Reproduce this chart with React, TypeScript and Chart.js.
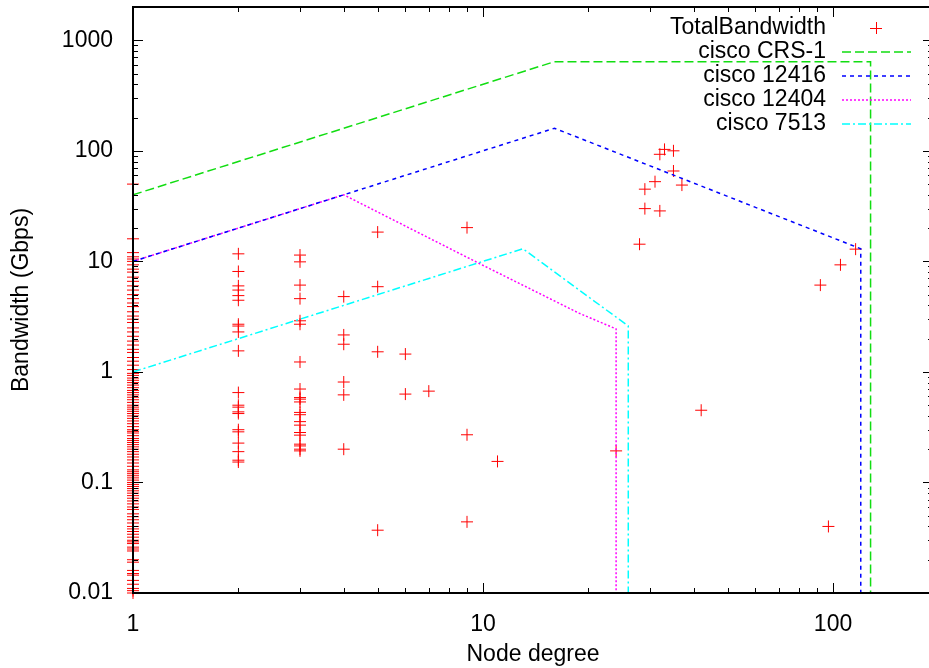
import { useEffect, useRef } from "react";
import { Chart, registerables } from "chart.js";
Chart.register(...registerables);

// ---------- labels ----------
const seriesNames = ["TotalBandwidth", "cisco CRS-1", "cisco 12416", "cisco 12404", "cisco 7513"];
const xTitle = "Node degree";
const yTitle = "Bandwidth (Gbps)";
const xTickValues = [1, 10, 100];
const yTickValues = [0.01, 0.1, 1, 10, 100, 1000];
const xRange = [1, 193];
const yRange = [0.01, 2000];

// ---------- measured points (TotalBandwidth) ----------
const degree1Bw = [
  50, 16, 12, 11, 10.5, 10,
  9.3, 8.5, 8, 7.2, 6.6, 6, 5.5, 5, 4.6, 4.2, 3.9, 3.5, 3.2, 3, 2.8, 2.5, 2.3, 2.1, 1.9, 1.75, 1.6, 1.5,
  1.35, 1.25, 1.15, 1.05,
  0.97, 0.93, 0.88, 0.84, 0.8, 0.76, 0.72, 0.68, 0.65, 0.62, 0.59, 0.56, 0.53, 0.5, 0.48, 0.46, 0.44,
  0.42, 0.4, 0.38, 0.36, 0.34, 0.32, 0.3, 0.29, 0.28, 0.265, 0.25, 0.24, 0.23, 0.22, 0.21, 0.2, 0.19,
  0.18, 0.17, 0.16, 0.15, 0.14, 0.13, 0.125, 0.12, 0.115, 0.11, 0.105, 0.1,
  0.096, 0.092, 0.088, 0.084, 0.08, 0.076, 0.072, 0.068, 0.064, 0.06, 0.057, 0.052, 0.049, 0.046,
  0.043, 0.04, 0.038, 0.036, 0.034, 0.032, 0.03, 0.029, 0.028, 0.026, 0.025, 0.024, 0.02, 0.019,
  0.016, 0.015, 0.0145, 0.013, 0.012, 0.011, 0.0105, 0.01,
];
const degree2Bw = [
  11.7, 8.1, 6.0, 5.5, 4.9, 4.45, 2.7, 2.6, 2.3, 1.55, 0.65, 0.5, 0.48, 0.435, 0.42, 0.3, 0.287,
  0.227, 0.19, 0.159, 0.153,
];
const degree3Bw = [
  11.4, 9.9, 6.1, 4.6, 2.9, 2.7, 1.23, 0.7, 0.586, 0.567, 0.535, 0.43, 0.41, 0.355, 0.33, 0.283,
  0.268, 0.222, 0.214, 0.2, 0.193,
];
const otherDegree = [
  4, 4, 4, 4, 4, 4, 5, 5, 5, 5, 6, 6, 7, 9, 9, 9, 11, 24, 28, 29, 29, 31, 32, 32, 33, 35, 35, 37, 42,
  92, 97, 105, 116,
];
const otherBw = [
  4.8, 2.16, 1.78, 0.81, 0.62, 0.2, 18.4, 5.9, 1.52, 0.037, 1.45, 0.63, 0.67, 20.2, 0.27, 0.044,
  0.155, 0.193, 14.3, 45, 30, 52.6, 93, 28.6, 103, 100, 65.7, 49, 0.45, 6.1, 0.04, 9.3, 12.9,
];

// ---------- router capacity curves ----------
const crsDegree = [1, 16, 128, 128];
const crsBw = [40, 640, 640, 0.01];
const c12416Degree = [1, 16, 120, 120];
const c12416Bw = [10, 160, 13, 0.01];
const c12404Degree = [1, 4, 9.8, 18.8, 24, 24];
const c12404Bw = [10, 40, 9.5, 3.4, 2.45, 0.01];
const c7513Degree = [1, 13, 26, 26];
const c7513Bw = [1, 13, 2.6, 0.01];

const seriesColors = ["#ff0000", "#11dd11", "#0000ff", "#ff00ff", "#00ffff"];
const seriesDashes = [[], [9, 4], [4, 4], [2, 2], [8, 3, 2, 3]];

const FONT = "'Liberation Sans', Arial, Helvetica, sans-serif";
const CW = 940;
const CH = 668;

const toPts = (xs: number[], ys: number[]) => xs.map((x, i) => ({ x, y: ys[i] }));

const framePlugin = {
  id: "gnuplotFrame",
  afterDraw(chart: any) {
    const { ctx, chartArea } = chart;
    const { left, right, top, bottom } = chartArea;
    const xs = chart.scales.x;
    const ys = chart.scales.y;
    ctx.save();
    ctx.strokeStyle = "#000";
    ctx.lineWidth = 1;
    ctx.setLineDash([]);
    ctx.beginPath();
    for (let d = 1; d <= 1000; d *= 10) {
      for (let m = 1; m <= 9; m++) {
        const v = d * m;
        if (v < xs.min || v > xs.max) continue;
        const p = Math.round(xs.getPixelForValue(v)) + 0.5;
        const len = m === 1 ? 10 : 5;
        ctx.moveTo(p, bottom);
        ctx.lineTo(p, bottom - len);
        ctx.moveTo(p, top);
        ctx.lineTo(p, top + len);
      }
    }
    for (let d = 0.01; d <= 1000.5; d *= 10) {
      for (let m = 1; m <= 9; m++) {
        const v = d * m;
        if (v < ys.min * 0.999 || v > ys.max) continue;
        const p = Math.round(ys.getPixelForValue(v)) + 0.5;
        const len = m === 1 ? 10 : 5;
        ctx.moveTo(left, p);
        ctx.lineTo(left + len, p);
        ctx.moveTo(right, p);
        ctx.lineTo(right - len, p);
      }
    }
    ctx.stroke();
    ctx.lineWidth = 2;
    ctx.strokeRect(left, top, right - left, bottom - top);

    // legend
    const rowY = [28, 52, 76, 100, 124];
    ctx.font = `23px ${FONT}`;
    ctx.fillStyle = "#000";
    ctx.textAlign = "right";
    ctx.textBaseline = "middle";
    chart.data.datasets.forEach((ds: any, i: number) => {
      const y = rowY[i];
      ctx.fillText(ds.label, 826, y);
      ctx.strokeStyle = seriesColors[i];
      if (i === 0) {
        ctx.lineWidth = 1;
        ctx.setLineDash([]);
        ctx.beginPath();
        ctx.moveTo(870, y + 0.5);
        ctx.lineTo(882, y + 0.5);
        ctx.moveTo(876.5, y - 6);
        ctx.lineTo(876.5, y + 6);
        ctx.stroke();
      } else {
        ctx.lineWidth = 1.5;
        ctx.setLineDash(seriesDashes[i]);
        ctx.beginPath();
        ctx.moveTo(842, y);
        ctx.lineTo(911, y);
        ctx.stroke();
      }
    });
    ctx.restore();
  },
};

export default function App() {
  const ref = useRef<HTMLCanvasElement>(null);
  useEffect(() => {
    const pts = [
      ...degree1Bw.map((y) => ({ x: 1, y })),
      ...degree2Bw.map((y) => ({ x: 2, y })),
      ...degree3Bw.map((y) => ({ x: 3, y })),
      ...toPts(otherDegree, otherBw),
    ];
    const lineDs = (i: number, xs: number[], ys: number[]) => ({
      label: seriesNames[i],
      data: toPts(xs, ys),
      showLine: true,
      borderColor: seriesColors[i],
      backgroundColor: seriesColors[i],
      borderDash: seriesDashes[i],
      borderWidth: 1.5,
      pointRadius: 0,
      pointHoverRadius: 0,
      tension: 0,
      order: 1,
    });
    const tickFont = { family: FONT, size: 23 };
    const chart = new Chart(ref.current as HTMLCanvasElement, {
      type: "scatter",
      data: {
        datasets: [
          {
            label: seriesNames[0],
            data: pts,
            showLine: false,
            pointStyle: "cross",
            pointRadius: 6,
            pointHoverRadius: 6,
            borderColor: seriesColors[0],
            pointBorderColor: seriesColors[0],
            borderWidth: 1,
            pointBorderWidth: 1,
            clip: false,
            order: 2,
          } as any,
          lineDs(1, crsDegree, crsBw),
          lineDs(2, c12416Degree, c12416Bw),
          lineDs(3, c12404Degree, c12404Bw),
          lineDs(4, c7513Degree, c7513Bw),
        ],
      },
      options: {
        responsive: false,
        animation: false,
        events: [],
        layout: { padding: { left: 0, top: 5, right: CW - 934, bottom: 0 } },
        plugins: { legend: { display: false }, tooltip: { enabled: false } },
        scales: {
          x: {
            type: "logarithmic",
            min: xRange[0],
            max: xRange[1],
            grid: { display: false },
            border: { display: false },
            ticks: {
              color: "#000",
              font: tickFont,
              padding: 10,
              maxRotation: 0,
              autoSkip: false,
              callback: (v: any) => String(v),
            },
            afterBuildTicks: (s: any) => {
              s.ticks = xTickValues.map((v) => ({ value: v }));
            },
            afterFit: (s: any) => {
              s.height = 75;
              s.paddingLeft = 0;
              s.paddingRight = 0;
            },
            title: {
              display: true,
              text: xTitle,
              color: "#000",
              font: tickFont,
              padding: { top: 0, bottom: 0 },
            },
          },
          y: {
            type: "logarithmic",
            min: yRange[0],
            max: yRange[1],
            grid: { display: false },
            border: { display: false },
            ticks: {
              color: "#000",
              font: tickFont,
              padding: 12,
              autoSkip: false,
              callback: (v: any) => String(v),
            },
            afterBuildTicks: (s: any) => {
              s.ticks = yTickValues.map((v) => ({ value: v }));
            },
            afterFit: (s: any) => {
              s.width = 133;
              s.paddingTop = 0;
              s.paddingBottom = 0;
            },
            title: {
              display: true,
              text: yTitle,
              color: "#000",
              font: tickFont,
              padding: { top: 8, bottom: 0 },
            },
          },
        },
      } as any,
      plugins: [framePlugin],
    });
    return () => chart.destroy();
  }, []);
  return (
    <div
      style={{
        position: "fixed",
        left: 0,
        top: 0,
        width: 929,
        height: 668,
        overflow: "hidden",
        background: "#fff",
      }}
    >
      <canvas ref={ref} width={CW} height={CH} style={{ display: "block" }} />
    </div>
  );
}
